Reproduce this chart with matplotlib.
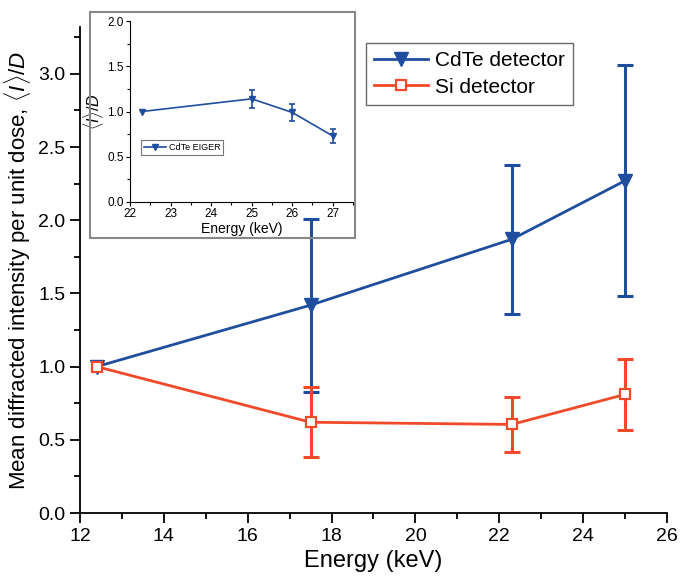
import matplotlib
matplotlib.use('Agg')
import matplotlib.pyplot as plt
from matplotlib.patches import Rectangle
from matplotlib.ticker import MultipleLocator

plt.rcParams['font.family'] = ['Liberation Sans', 'DejaVu Sans']
plt.rcParams['mathtext.fontset'] = 'custom'
plt.rcParams['mathtext.rm'] = 'Liberation Sans'
plt.rcParams['mathtext.it'] = 'Liberation Sans:italic'

# main data
energy = [12.4, 17.5, 22.3, 25.0]
cdte = [1.0, 1.42, 1.87, 2.27]
cdte_err = [0.0, 0.59, 0.51, 0.79]
si = [1.0, 0.62, 0.605, 0.81]
si_err = [0.0, 0.24, 0.19, 0.24]

# inset data
eiger_energy = [22.3, 25.0, 26.0, 27.0]
eiger = [1.0, 1.14, 0.99, 0.73]
eiger_err = [0.0, 0.10, 0.09, 0.08]

blue = '#1f4e9e'
red = '#f04a2a'

fig = plt.figure(figsize=(6.8, 5.78), dpi=100)
ax = fig.add_axes([80 / 680, 1 - 513 / 578, 587 / 680, 486 / 578])
ax.patch.set_alpha(0)
ax.set_zorder(2)

# error bars only where the error is non-zero
ax.errorbar(energy[1:], cdte[1:], yerr=cdte_err[1:], fmt='none', ecolor=blue,
            elinewidth=2.2, capsize=6, capthick=2.2, zorder=3)
ax.errorbar(energy[1:], si[1:], yerr=si_err[1:], fmt='none', ecolor=red,
            elinewidth=2.2, capsize=6, capthick=2.2, zorder=4)
l1, = ax.plot(energy, cdte, color=blue, marker='v', markersize=10, lw=2, zorder=3)
l2, = ax.plot(energy, si, color=red, marker='s', markersize=7, markerfacecolor='white',
              markeredgewidth=1.6, lw=2, zorder=4)

ax.set_xlim(12, 26)
ax.set_ylim(0, 3.32)
ax.xaxis.set_major_locator(MultipleLocator(2))
ax.xaxis.set_minor_locator(MultipleLocator(1))
ax.yaxis.set_major_locator(MultipleLocator(0.5))
ax.yaxis.set_minor_locator(MultipleLocator(0.25))
ax.yaxis.set_major_formatter(matplotlib.ticker.FormatStrFormatter('%.1f'))
for s in ['top', 'right']:
    ax.spines[s].set_visible(False)
for s in ['left', 'bottom']:
    ax.spines[s].set_linewidth(1.3)
ax.tick_params(which='major', direction='out', length=7, width=1.3, labelsize=14)
ax.tick_params(which='minor', direction='out', length=4, width=1.3)
ax.set_xlabel('Energy (keV)', fontsize=17)
ax.set_ylabel(r'Mean diffracted intensity per unit dose, $\langle I\rangle/D$', fontsize=16)

leg = ax.legend(handles=[l1, l2], labels=['CdTe detector', 'Si detector'],
                loc='upper left', bbox_to_anchor=(0.487, 0.967), fontsize=15,
                frameon=True, fancybox=False, edgecolor='#444444', handlelength=2.6,
                borderpad=0.4, labelspacing=0.35, handletextpad=0.3, borderaxespad=0)
leg.get_frame().set_linewidth(1.0)

# inset frame
fig.patches.append(Rectangle((90 / 680, 1 - 238 / 578), 265 / 680, 226 / 578,
                             transform=fig.transFigure, fill=False,
                             edgecolor='#888888', lw=1.5, zorder=5))

ins = fig.add_axes([130 / 680, 1 - 202 / 578, 223 / 680, 181 / 578])
ins.patch.set_alpha(0)
ins.set_zorder(1)
ins.errorbar(eiger_energy[1:], eiger[1:], yerr=eiger_err[1:], fmt='none', ecolor=blue,
             elinewidth=1.2, capsize=2.5, capthick=1.2)
l3, = ins.plot(eiger_energy, eiger, color=blue, marker='v', markersize=5, lw=1.2)
ins.set_xlim(22, 27.5)
ins.set_ylim(0, 2.0)
ins.xaxis.set_major_locator(MultipleLocator(1))
ins.xaxis.set_minor_locator(MultipleLocator(0.5))
ins.yaxis.set_major_locator(MultipleLocator(0.5))
ins.yaxis.set_minor_locator(MultipleLocator(0.25))
ins.yaxis.set_major_formatter(matplotlib.ticker.FormatStrFormatter('%.1f'))
for s in ['top', 'right']:
    ins.spines[s].set_visible(False)
ins.tick_params(which='major', direction='out', length=3, width=0.8, labelsize=8.5, pad=1.5)
ins.tick_params(which='minor', direction='out', length=2, width=0.8)
ins.set_xlabel('Energy (keV)', fontsize=10, labelpad=1)
ins.set_ylabel(r'$\langle I\rangle/D$', fontsize=11.5, labelpad=1)
ileg = ins.legend(handles=[l3], labels=['CdTe EIGER'],
                  loc='upper left', bbox_to_anchor=(0.05, 0.34), fontsize=6.5,
                  frameon=True, fancybox=False, edgecolor='#555555', borderpad=0.3,
                  handlelength=2.5, handletextpad=0.3, borderaxespad=0)
ileg.get_frame().set_linewidth(0.8)

fig.savefig('out.png', dpi=100)
